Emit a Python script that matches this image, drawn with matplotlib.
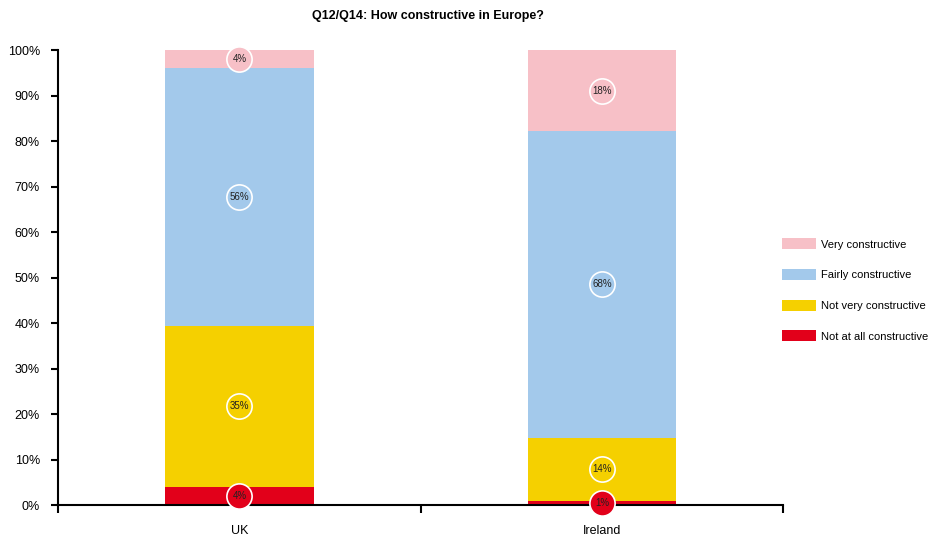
import numpy as np
import matplotlib.pyplot as plt
from matplotlib.patches import Patch
from matplotlib import font_manager

# data (as shown in the chart labels, %)
countries = ['UK', 'Ireland']
series = ['Not at all constructive', 'Not very constructive',
          'Fairly constructive', 'Very constructive']
not_at_all = [4, 1]
not_very = [35, 14]
fairly = [56, 68]
very = [4, 18]

colors = ['#e2001a', '#f5d000', '#a3c9eb', '#f7c0c7']

names = {f.name for f in font_manager.fontManager.ttflist}
fam = 'Liberation Sans Narrow' if 'Liberation Sans Narrow' in names else 'Liberation Sans'
plt.rcParams['font.family'] = [fam, 'DejaVu Sans']

vals = np.array([not_at_all, not_very, fairly, very], dtype=float)
shares = vals / vals.sum(axis=0) * 100  # 100% stacked

fig = plt.figure(figsize=(9.36, 5.38), dpi=100)
ax = fig.add_axes([0.062, 0.061, 0.775, 0.846])

x = np.arange(len(countries))
bottom = np.zeros(len(countries))
for i, name in enumerate(series):
    ax.bar(x, shares[i], 0.41, bottom=bottom, color=colors[i], label=name, zorder=2)
    centers = bottom + shares[i] / 2
    for xi, c, v in zip(x, centers, vals[i]):
        ax.scatter(xi, c, s=330, facecolor=colors[i], edgecolor='white',
                   linewidth=1.2, zorder=3, clip_on=False)
        ax.text(xi, c, f'{v:.0f}%', ha='center', va='center', fontsize=7,
                color='#222222', zorder=4)
    bottom += shares[i]

ax.set_xlim(-0.5, 1.5)
ax.set_ylim(0, 100)
ax.set_yticks(np.arange(0, 101, 10))
ax.set_yticklabels([f'{t}%' for t in range(0, 101, 10)], fontsize=9)
ax.set_xticks(x)
ax.set_xticklabels(countries, fontsize=9)
ax.tick_params(axis='x', which='major', length=0, pad=14)
ax.set_xticks([-0.5, 0.5, 1.5], minor=True)
ax.tick_params(axis='x', which='minor', length=6, width=1.5, direction='out')
ax.tick_params(axis='y', length=5, width=1.5, direction='out', pad=8)
for s in ['top', 'right']:
    ax.spines[s].set_visible(False)
for s in ['left', 'bottom']:
    ax.spines[s].set_linewidth(1.5)
ax.spines['left'].set_bounds(0, 100)

ax.set_title('Q12/Q14: How constructive in Europe?', fontsize=9,
             fontweight='bold', pad=22, x=0.51)

handles = [Patch(facecolor=colors[i], label=series[i]) for i in range(4)][::-1]
fig.legend(handles=handles, loc='center left', bbox_to_anchor=(0.836, 0.461),
           frameon=False, fontsize=8, handlelength=3.0, handleheight=1.15,
           labelspacing=1.75, handletextpad=0.45, borderpad=0, borderaxespad=0)

fig.savefig('out.png', dpi=100)
